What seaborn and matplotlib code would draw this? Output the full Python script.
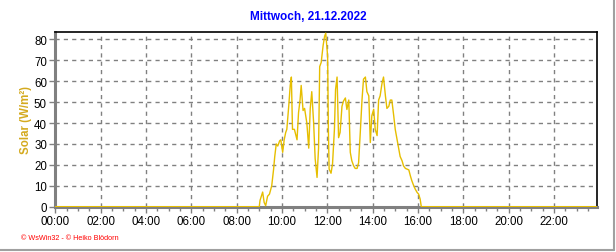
import numpy as np
import pandas as pd
import matplotlib
matplotlib.use("Agg")
import matplotlib.pyplot as plt
from matplotlib.lines import Line2D
import matplotlib.ticker as mticker
import seaborn as sns

title = "Mittwoch, 21.12.2022"
ylabel = "Solar (W/m²)"
footer = "© WsWin32 - © Heiko Blödorn"
xtick_labels = ["00:00", "02:00", "04:00", "06:00", "08:00", "10:00",
                "12:00", "14:00", "16:00", "18:00", "20:00", "22:00"]
yticks = [0, 10, 20, 30, 40, 50, 60, 70, 80]

# time of each reading in minutes after midnight
minutes = [0, 540, 542, 549, 553, 557, 562, 567, 573, 578, 581, 585, 589, 594,
           597, 602, 606, 610, 613, 618, 622, 625, 628, 633, 640, 644, 648,
           651, 656, 660, 666, 671, 675, 679, 684, 688, 693, 697, 700, 704,
           709, 713, 716, 721, 723, 725, 730, 734, 739, 742, 746, 750, 754,
           759, 763, 768, 772, 777, 781, 785, 790, 794, 799, 803, 807, 812,
           816, 821, 825, 830, 834, 838, 843, 847, 852, 856, 860, 865, 869,
           874, 878, 883, 887, 891, 896, 900, 905, 909, 913, 918, 922, 927,
           931, 936, 940, 944, 949, 953, 958, 962, 966, 969, 1435]
solar = [0, 0, 3, 7, 2, 0.5, 5, 6, 10, 18, 24, 30, 29, 31.5,
         32, 26, 32, 35.5, 37, 48, 58, 62, 37, 37, 32, 45, 51,
         58, 46, 47, 40, 28, 47, 55, 40, 23, 14, 28, 67, 69,
         77, 81.5, 83, 72, 37, 18, 16, 20.5, 37, 56, 62, 33, 35.5,
         48, 50.5, 52, 46.5, 51, 26, 22, 19.5, 18.3, 18.3, 21, 34, 51,
         61, 62, 55, 53, 30.7, 43.5, 46.6, 37, 34, 51, 53, 59, 62,
         53, 47, 48, 51, 51, 43.5, 37, 32, 28, 24, 22, 19.5, 18.3,
         18, 17.6, 14.8, 12.4, 10, 8.4, 6.8, 6, 3.6, 0, 0]

df = pd.DataFrame({"hour": np.array(minutes) / 60.0, "solar": solar})

sns.set_theme(style="white")
plt.rcParams["font.family"] = ["Liberation Sans", "DejaVu Sans"]

fig = plt.figure(figsize=(6.16, 2.53), dpi=100)
ax = fig.add_axes([55.3 / 616, 1 - 207.7 / 253, (597.3 - 55.3) / 616, (207.7 - 33.3) / 253])

sns.lineplot(data=df, x="hour", y="solar", color="#e6be00", linewidth=1.0,
             ax=ax, zorder=3)

ax.set_xlim(0, 23 + 55 / 60)
ax.set_ylim(0, 83.4)
ax.set_xticks(np.arange(0, 24, 2))
ax.set_xticklabels(xtick_labels)
ax.xaxis.set_minor_locator(mticker.MultipleLocator(0.5))
ax.set_yticks(yticks)
ax.set_yticklabels([str(v) for v in yticks])

ax.grid(True, which="major", color="#808080", linestyle=(0, (3, 3)), linewidth=1)
ax.set_axisbelow(True)

ax.tick_params(axis="both", which="major", direction="out", length=4, width=1,
               color="#808080", labelsize=8.3, labelcolor="black", pad=2,
               bottom=True, left=True)
ax.tick_params(axis="x", which="minor", direction="out", length=3, width=1,
               color="#808080", bottom=True)

for s in ["left", "bottom"]:
    ax.spines[s].set_color("#808080")
    ax.spines[s].set_linewidth(2.2)
for s in ["top", "right"]:
    ax.spines[s].set_color("black")
    ax.spines[s].set_linewidth(1.2)

ax.set_xlabel("")
ax.set_ylabel(ylabel, color="#d4aa1e", fontsize=8.3, fontweight="bold", labelpad=6)
ax.yaxis.set_label_coords(-0.043, 0.5)

fig.text(308 / 616, 1 - 17 / 253, title, color="#0000ff", fontsize=8.5,
         fontweight="bold", ha="center", va="center")
fig.text(21 / 616, 1 - 239 / 253, footer, color="#ff0000", fontsize=5.2,
         ha="left", va="center")

fig.add_artist(Line2D([614 / 616, 614 / 616], [1 - 251 / 253, 1], transform=fig.transFigure,
                      color="#a0a0a0", linewidth=1.5))
fig.add_artist(Line2D([0, 614 / 616], [1 - 251 / 253, 1 - 251 / 253], transform=fig.transFigure,
                      color="#a0a0a0", linewidth=1.5))

fig.savefig("out.png", dpi=100, facecolor="white")
